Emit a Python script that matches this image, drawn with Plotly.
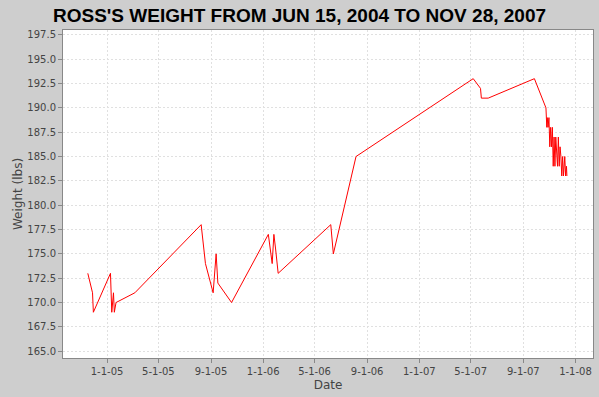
import plotly.graph_objects as go

dates = [
    "2004-11-17", "2004-11-28", "2004-11-30", "2005-01-09", "2005-01-12",
    "2005-01-16", "2005-01-18", "2005-01-22", "2005-03-07", "2005-08-09",
    "2005-08-19", "2005-09-06", "2005-09-13", "2005-09-17", "2005-10-19",
    "2006-01-13", "2006-01-22", "2006-01-26", "2006-01-30", "2006-02-05",
    "2006-06-08", "2006-06-14", "2006-08-06", "2007-05-07", "2007-05-24",
    "2007-05-26", "2007-06-11", "2007-09-27", "2007-10-24", "2007-10-26",
    "2007-10-27", "2007-10-29", "2007-10-31", "2007-11-02", "2007-11-04",
    "2007-11-06", "2007-11-08", "2007-11-10", "2007-11-12", "2007-11-14",
    "2007-11-16", "2007-11-18", "2007-11-20", "2007-11-22", "2007-11-24",
    "2007-11-26", "2007-11-28", "2007-11-30", "2007-12-02", "2007-12-04",
    "2007-12-07", "2007-12-09", "2007-12-11", "2007-12-12",
]
weights = [
    173, 171, 169, 173, 169,
    171, 169, 170, 171, 178,
    174, 171, 175, 172, 170,
    177, 174, 177, 175.5, 173,
    178, 175, 185, 193, 192,
    191, 191, 193, 190, 188,
    189, 188, 189, 186, 188,
    186, 188, 184, 187, 184,
    187, 185, 184, 187, 184,
    186, 185, 183, 185, 183,
    185, 183, 184, 183,
]

x_tick_vals = ["2005-01-01", "2005-05-01", "2005-09-01", "2006-01-01", "2006-05-01",
               "2006-09-01", "2007-01-01", "2007-05-01", "2007-09-01", "2008-01-01"]
x_tick_text = ["1-1-05", "5-1-05", "9-1-05", "1-1-06", "5-1-06",
               "9-1-06", "1-1-07", "5-1-07", "9-1-07", "1-1-08"]
y_tick_vals = [165.0, 167.5, 170.0, 172.5, 175.0, 177.5, 180.0, 182.5,
               185.0, 187.5, 190.0, 192.5, 195.0, 197.5]

title_text = "ROSS'S WEIGHT FROM JUN 15, 2004 TO NOV 28, 2007"

fig = go.Figure()
fig.add_trace(go.Scatter(
    x=dates, y=weights, mode="lines",
    line=dict(color="#ff0000", width=1),
    hoverinfo="x+y", showlegend=False,
))

axis_font = dict(family="DejaVu Sans", size=10, color="#444444")

fig.update_layout(
    width=599, height=397,
    margin=dict(l=63, r=6, t=30, b=39),
    paper_bgcolor="#cecece",
    plot_bgcolor="#ffffff",
    title=dict(text="<b>" + title_text + "</b>", x=0.5, xanchor="center",
               y=1 - 15 / 397, yanchor="middle",
               font=dict(family="Liberation Sans", size=19, color="#000000")),
    xaxis=dict(
        type="date",
        range=["2004-09-20", "2008-02-11"],
        tickmode="array", tickvals=x_tick_vals, ticktext=x_tick_text,
        ticks="outside", ticklen=4, tickcolor="#888888",
        showgrid=True, gridcolor="#e0e0e0", griddash="2px,2px", gridwidth=1,
        showline=True, linecolor="#888888", linewidth=1, mirror=True,
        zeroline=False, tickfont=axis_font,
        title=dict(text="Date", font=dict(family="DejaVu Sans", size=12, color="#444444"), standoff=4),
        automargin=False,
    ),
    yaxis=dict(
        range=[164.3, 198.0],
        tickmode="array", tickvals=y_tick_vals, tickformat=".1f",
        ticks="outside", ticklen=4, tickcolor="#888888",
        showgrid=True, gridcolor="#e0e0e0", griddash="2px,2px", gridwidth=1,
        showline=True, linecolor="#888888", linewidth=1, mirror=True,
        zeroline=False, tickfont=axis_font,
        title=dict(text="Weight (lbs)", font=dict(family="DejaVu Sans", size=12, color="#444444"), standoff=2),
        automargin=False,
    ),
)

fig.write_html("out.html")
